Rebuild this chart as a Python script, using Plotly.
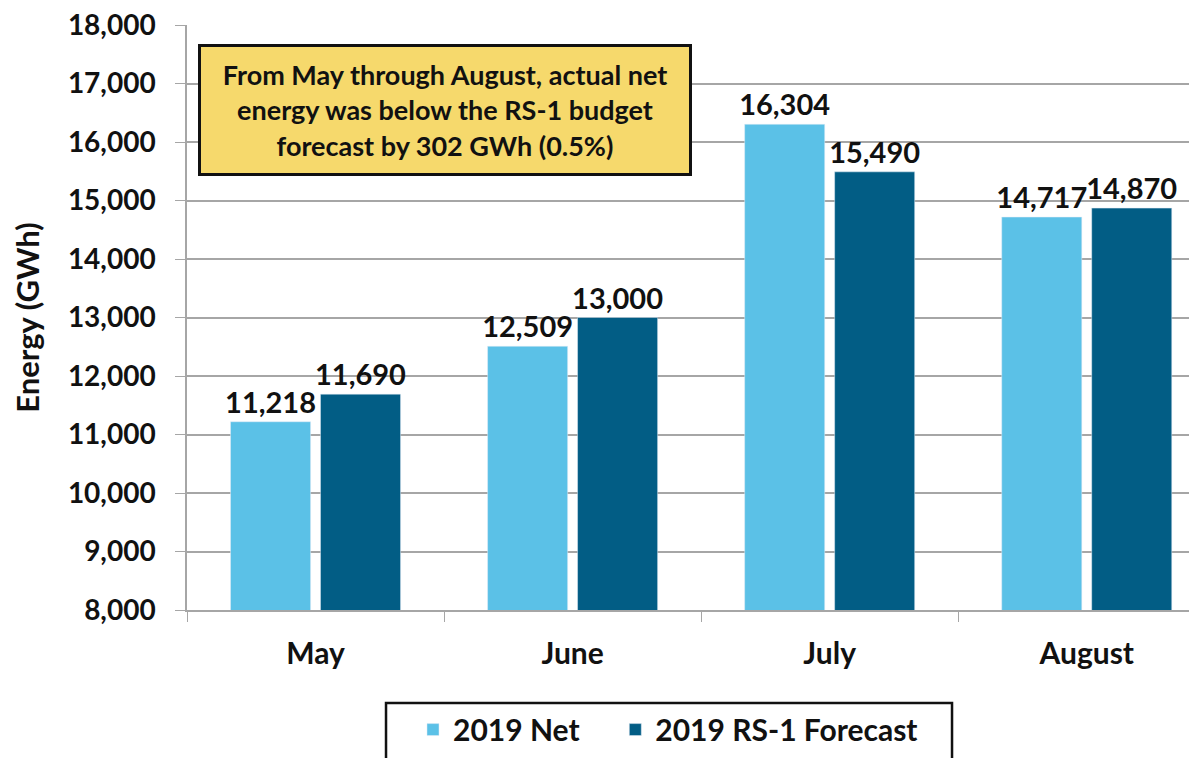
import plotly.graph_objects as go

months = ["May", "June", "July", "August"]
net_2019 = [11218, 12509, 16304, 14717]
forecast_rs1 = [11690, 13000, 15490, 14870]
y_ticks = list(range(8000, 18001, 1000))

FONT = "Lato, 'Open Sans', sans-serif"
INK = "#111111"
GRID = "#A6A6A6"
NB = "\u00a0"

def fmt(v):
    return f"{v:,}"

fig = go.Figure()
fig.add_trace(go.Bar(x=months, y=net_2019, name="<b>2019 Net</b>" + NB * 4, marker_color="#5BC1E7",
                     text=[f"<b>{fmt(v)}</b>" for v in net_2019], textposition="outside",
                     constraintext="none", cliponaxis=False,
                     textfont=dict(size=29, color=INK, family=FONT)))
fig.add_trace(go.Bar(x=months, y=forecast_rs1, name="<b>2019 RS-1 Forecast</b>", marker_color="#025D85",
                     text=[f"<b>{fmt(v)}</b>" for v in forecast_rs1], textposition="outside",
                     constraintext="none", cliponaxis=False,
                     textfont=dict(size=29, color=INK, family=FONT)))

# callout box
fig.add_annotation(xref="paper", yref="paper", x=0.2535, y=0.855,
                   xanchor="center", yanchor="middle",
                   text="<b>From May through August, actual net<br>energy was below the RS-1 budget<br>forecast by 302 GWh (0.5%)</b>",
                   showarrow=False, align="center", bgcolor="#F6D96C",
                   bordercolor=INK, borderwidth=3, borderpad=2,
                   width=484, height=122,
                   font=dict(size=27, color=INK, family=FONT))

# legend frame (runs off the bottom edge like the original)
fig.add_shape(type="rect", xref="paper", yref="paper",
              x0=0.1955, x1=0.7515, y0=-0.30, y1=-0.159,
              line=dict(color=INK, width=2.5), fillcolor="rgba(0,0,0,0)")

fig.update_layout(
    width=1197, height=758,
    margin=dict(l=179, r=0, t=17, b=156),
    plot_bgcolor="white", paper_bgcolor="white",
    barmode="group", bargap=0.30, bargroupgap=0.11,
    font=dict(family=FONT, color=INK),
    legend=dict(orientation="h", x=0.222, y=-0.160, xanchor="left", yanchor="top",
                borderwidth=0, bgcolor="rgba(0,0,0,0)",
                font=dict(size=30, color=INK, family=FONT),
                traceorder="normal"),
)
fig.update_xaxes(range=[-0.5, 3.46], automargin=False,
                 showline=True, linecolor=GRID, linewidth=1.5,
                 ticks="outside", tickson="boundaries", ticklen=10, tickcolor=GRID,
                 tickfont=dict(size=30, color=INK, family=FONT),
                 ticklabelstandoff=16, tickprefix="<b>", ticksuffix="</b>")
fig.update_yaxes(range=[8000, 18000], automargin=False, ticklabeloverflow="allow",
                 tickvals=y_ticks, ticktext=[f"<b>{fmt(v)}</b>" for v in y_ticks],
                 showgrid=True, gridcolor=GRID, gridwidth=1.5,
                 showline=True, linecolor=GRID, linewidth=1.5,
                 ticks="outside", ticklen=10, tickcolor=GRID,
                 ticklabelstandoff=14,
                 tickfont=dict(size=28, color=INK, family=FONT),
                 title=dict(text="<b>Energy (GWh)</b>", font=dict(size=31, color=INK, family=FONT),
                            standoff=22))

fig.write_html("out.html")
